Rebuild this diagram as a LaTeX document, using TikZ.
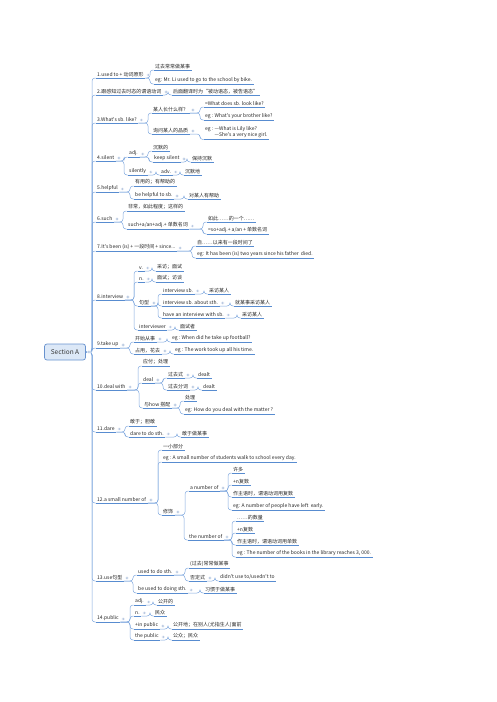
\documentclass[tikz,border=0pt]{standalone}
\usepackage{fontspec}
\setmainfont{Noto Sans CJK SC}[Ligatures=TeXOff]
\definecolor{lineblue}{RGB}{88,140,208}
\definecolor{connblue}{RGB}{128,168,222}
\definecolor{knobgray}{RGB}{186,202,226}
\definecolor{rootfill}{RGB}{220,232,247}
\definecolor{rootedge}{RGB}{104,146,206}
\begin{document}
\begin{tikzpicture}[x=1pt, y=-1pt,
    topic/.style={anchor=south west, inner xsep=1.5pt, inner ysep=1.2pt,
      font=\fontsize{5}{6.4}\selectfont, text=black!85,
      append after command={(\tikzlastnode.south west) edge[uline] (\tikzlastnode.south east)}},
    uline/.style={draw=lineblue, line width=0.6pt},
    conn/.style={draw=connblue, line width=0.5pt, rounded corners=3pt},
    knob/.style={fill=knobgray, draw=white, line width=0.3pt},
    root/.style={draw=rootedge, fill=rootfill, rounded corners=2.5pt, line width=0.7pt,
      minimum width=41pt, minimum height=16pt, font=\fontsize{6.5}{8}\selectfont, text=black!80}]
    \useasboundingbox (0,0) rectangle (496,702);

    % 1. 中心主题
    \node[root] (sa) at (65,352) {Section A};

    % 2. 一级分支
    \node[topic] (n1) at (95.5,78) {1.used to + 动词原形};
    \node[topic] (n2) at (95.5,95) {2.跟感知过去时态的谓语动词};
    \node[topic] (n3) at (95.5,123) {3.What's sb. like?};
    \node[topic] (n4) at (95.5,161) {4.silent};
    \node[topic] (n5) at (95.5,192) {5.helpful};
    \node[topic] (n6) at (95.5,222) {6.such};
    \node[topic] (n7) at (95.5,251) {7.It's been (is) + 一段时间 + since...};
    \node[topic] (n8) at (95.5,300) {8.interview};
    \node[topic] (n9) at (95.5,348) {9.take up};
    \node[topic] (n10) at (95.5,390) {10.deal with};
    \node[topic] (n11) at (95.5,432) {11.dare};
    \node[topic] (n12) at (95.5,503) {12.a small number of};
    \node[topic] (n13) at (95.5,581) {13.use句型};
    \node[topic] (n14) at (95.5,622) {14.public};

    % 3. 1--3 的子主题
    \node[topic] (n1a) at (153.5,70) {过去常常做某事};
    \node[topic] (n1b) at (153.5,84) {eg: Mr. Li used to go to the school by bike.};
    \node[topic] (n2a) at (171.5,95) {后面翻译时为“被动语态，被告语态”};
    \node[topic] (n3a) at (151.5,113) {某人长什么样？};
    \node[topic] (n3a1) at (203.5,107) {=What does sb. look like?};
    \node[topic] (n3a2) at (203.5,120) {eg : What's your brother like?};
    \node[topic] (n3b) at (151.5,134) {询问某人的品质};
    \node[topic, align=left] (n3b1) at (203.5,139.5) {eg : —What is Lily like?\\\phantom{eg : }—She's a very nice girl.};

    % 4. 4--7 的子主题
    \node[topic] (n4a) at (127.5,157) {adj.};
    \node[topic] (n4a1) at (151.5,151) {沉默的};
    \node[topic] (n4a2) at (152.5,162) {keep silent};
    \node[topic] (n4a21) at (190.5,162) {保持沉默};
    \node[topic] (n4b) at (127.5,175) {silently};
    \node[topic] (n4b1) at (159.5,175) {adv.};
    \node[topic] (n4b11) at (183.5,175) {沉默地};
    \node[topic] (n5a) at (133.5,186) {有用的；有帮助的};
    \node[topic] (n5b) at (133.5,199) {be helpful to sb.};
    \node[topic] (n5b1) at (187.5,199) {对某人有帮助};
    \node[topic] (n6a) at (126.5,211) {非常，如此程度；这样的};
    \node[topic] (n6b) at (126.5,229) {such+a/an+adj.+ 单数名词};
    \node[topic] (n6b1) at (206.5,222) {如此……的一个……};
    \node[topic] (n6b2) at (206.5,234) {=so+adj.+ a/an + 单数名词};
    \node[topic] (n7a) at (195.5,246) {自……以来有一段时间了};
    \node[topic] (n7b) at (195.5,258) {eg: It has been (is) two years since his father\ \ died.};

    % 5. 8--11 的子主题
    \node[topic] (n8a) at (137.5,271) {v.};
    \node[topic] (n8a1) at (155.5,271) {采访；面试};
    \node[topic] (n8b) at (137.5,282) {n.};
    \node[topic] (n8b1) at (155.5,282) {面试；访谈};
    \node[topic] (n8c) at (137.5,306) {句型};
    \node[topic] (n8c1) at (161.5,294) {interview sb.};
    \node[topic] (n8c11) at (207.5,294) {采访某人};
    \node[topic] (n8c2) at (161.5,306) {interview sb. about sth.};
    \node[topic] (n8c21) at (233.5,306) {就某事采访某人};
    \node[topic] (n8c3) at (161.5,318) {have an interview with sb.};
    \node[topic] (n8c31) at (240.5,318) {采访某人};
    \node[topic] (n8d) at (137.5,330) {interviewer};
    \node[topic] (n8d1) at (178.5,330) {面试者};
    \node[topic] (n9a) at (133.5,342) {开始从事};
    \node[topic] (n9a1) at (170.5,342) {eg : When did he take up football?};
    \node[topic] (n9b) at (133.5,354) {占用，花去};
    \node[topic] (n9b1) at (173.5,354) {eg : The work took up all his time.};
    \node[topic] (n10a) at (141.5,366) {应付；处理};
    \node[topic] (n10b) at (141.5,383) {deal};
    \node[topic] (n10b1) at (166.5,378) {过去式};
    \node[topic] (n10b11) at (196.5,378) {dealt};
    \node[topic] (n10b2) at (166.5,390) {过去分词};
    \node[topic] (n10b21) at (201.5,390) {dealt};
    \node[topic] (n10c) at (142.5,408) {与how 搭配};
    \node[topic] (n10c1) at (183.5,401) {处理};
    \node[topic] (n10c2) at (183.5,414) {eg: How do you deal with the matter ?};
    \node[topic] (n11a) at (128.5,426) {敢于；胆敢};
    \node[topic] (n11b) at (128.5,437) {dare to do sth.};
    \node[topic] (n11b1) at (180.5,437) {敢于做某事};

    % 6. 12--14 的子主题
    \node[topic] (n12a) at (161.5,450) {一小部分};
    \node[topic] (n12b) at (161.5,462) {eg : A small number of students walk to school every day.};
    \node[topic] (n12c) at (161.5,515) {修饰};
    \node[topic] (n12c1) at (188.5,491) {a number of};
    \node[topic] (n12c11) at (231.5,473) {许多};
    \node[topic] (n12c12) at (231.5,485) {+n复数};
    \node[topic] (n12c13) at (231.5,497) {作主语时，谓语动词用复数};
    \node[topic] (n12c14) at (231.5,510) {eg: A number of people have left\ \ early.};
    \node[topic] (n12c2) at (187.5,540) {the number of};
    \node[topic] (n12c21) at (235.5,521) {……的数量};
    \node[topic] (n12c22) at (235.5,533) {+n复数};
    \node[topic] (n12c23) at (235.5,545) {作主语时，谓语动词用单数};
    \node[topic] (n12c24) at (235.5,557) {eg : The number of the books in the library reaches 3, 000.};
    \node[topic] (n13a) at (136.5,575) {used to do sth.};
    \node[topic] (n13a1) at (188.5,568) {(过去)常常做某事};
    \node[topic] (n13a2) at (188.5,581) {否定式};
    \node[topic] (n13a21) at (218.5,581) {didn't use to/usedn't to};
    \node[topic] (n13b) at (136.5,593) {be used to doing sth.};
    \node[topic] (n13b1) at (203.5,593) {习惯于做某事};
    \node[topic] (n14a) at (133.5,605) {adj.};
    \node[topic] (n14a1) at (156.5,605) {公开的};
    \node[topic] (n14b) at (133.5,616) {n.};
    \node[topic] (n14b1) at (153.5,616) {民众};
    \node[topic] (n14c) at (133.5,629) {+in public};
    \node[topic] (n14c1) at (171.5,629) {公开地；在别人(尤指生人)面前};
    \node[topic] (n14d) at (133.5,640) {the public};
    \node[topic] (n14d1) at (171.5,640) {公众；民众};

    % 7. 连线
    \foreach \c in {n1,n2,n3,n4,n5,n6,n7,n8,n9,n10,n11,n12,n13,n14}
        \draw[conn] (sa.east) -| ([xshift=-3.5pt]\c.south west) -- (\c.south west);
    \foreach \p/\c in {n1/n1a, n1/n1b, n2/n2a, n3/n3a, n3/n3b, n3a/n3a1, n3a/n3a2, n3b/n3b1,
        n4/n4a, n4/n4b, n4a/n4a1, n4a/n4a2, n4a2/n4a21, n4b/n4b1, n4b1/n4b11,
        n5/n5a, n5/n5b, n5b/n5b1, n6/n6a, n6/n6b, n6b/n6b1, n6b/n6b2, n7/n7a, n7/n7b,
        n8/n8a, n8/n8b, n8/n8c, n8/n8d, n8a/n8a1, n8b/n8b1, n8c/n8c1, n8c/n8c2, n8c/n8c3,
        n8c1/n8c11, n8c2/n8c21, n8c3/n8c31, n8d/n8d1,
        n9/n9a, n9/n9b, n9a/n9a1, n9b/n9b1,
        n10/n10a, n10/n10b, n10/n10c, n10b/n10b1, n10b/n10b2, n10b1/n10b11, n10b2/n10b21,
        n10c/n10c1, n10c/n10c2, n11/n11a, n11/n11b, n11b/n11b1,
        n12/n12a, n12/n12b, n12/n12c, n12c/n12c1, n12c/n12c2,
        n12c1/n12c11, n12c1/n12c12, n12c1/n12c13, n12c1/n12c14,
        n12c2/n12c21, n12c2/n12c22, n12c2/n12c23, n12c2/n12c24,
        n13/n13a, n13/n13b, n13a/n13a1, n13a/n13a2, n13a2/n13a21, n13b/n13b1,
        n14/n14a, n14/n14b, n14/n14c, n14/n14d, n14a/n14a1, n14b/n14b1, n14c/n14c1, n14d/n14d1}
        \draw[conn] (\p.south east) -| ([xshift=-3.5pt]\c.south west) -- (\c.south west);

    % 8. 折叠按钮
    \filldraw[knob] ([xshift=3pt]sa.east) circle (1.8pt);
    \foreach \p in {n1,n2,n3,n4,n5,n6,n7,n8,n9,n10,n11,n12,n13,n14,n3a,n3b,n4a,n4a2,n4b,n4b1,
        n5b,n6b,n8a,n8b,n8c,n8c1,n8c2,n8c3,n8d,n9a,n9b,n10b,n10b1,n10b2,n10c,n11b,
        n12c,n12c1,n12c2,n13a,n13a2,n13b,n14a,n14b,n14c,n14d}
        \filldraw[knob] ([xshift=3pt,yshift=3pt]\p.south east) circle (1.7pt);
\end{tikzpicture}
\end{document}
